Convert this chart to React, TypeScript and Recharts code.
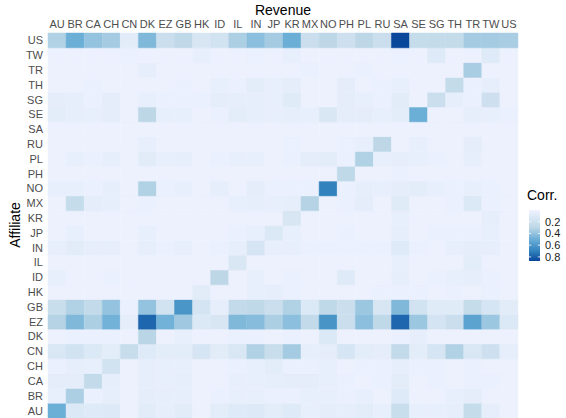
import React from "react";
import { BarChart, Bar, XAxis, YAxis, Cell } from "recharts";

// columns (Revenue) and rows (Affiliate, bottom to top)
const revenue = ["AU", "BR", "CA", "CH", "CN", "DK", "EZ", "GB", "HK", "ID", "IL", "IN", "JP", "KR", "MX", "NO", "PH", "PL", "RU", "SA", "SE", "SG", "TH", "TR", "TW", "US"];
const affiliates = ["AU", "BR", "CA", "CH", "CN", "DK", "EZ", "GB", "HK", "ID", "IL", "IN", "JP", "KR", "MX", "NO", "PH", "PL", "RU", "SA", "SE", "SG", "TH", "TR", "TW", "US"];

// correlation per affiliate row, in revenue column order
const rowAU = [0.5, 0.12, 0.1, 0.11, 0.02, 0.08, 0.05, 0.08, 0.02, 0.07, 0.1, 0.11, 0.07, 0.1, 0.04, 0.06, 0.05, 0.07, 0.04, 0.23, 0.04, 0.04, 0.05, 0.25, 0.05, 0.02];
const rowBR = [0.04, 0.34, 0.03, 0.05, 0.02, 0.06, 0.05, 0.05, 0.02, 0.03, 0.04, 0.04, 0.03, 0.03, 0.04, 0.04, 0.03, 0.04, 0.02, 0.1, 0.02, 0.02, 0.04, 0.06, 0.02, 0.02];
const rowCA = [0.06, 0.06, 0.27, 0.05, 0.02, 0.05, 0.04, 0.05, 0.02, 0.02, 0.04, 0.04, 0.05, 0.06, 0.06, 0.04, 0.03, 0.02, 0.03, 0.07, 0.02, 0.03, 0.02, 0.03, 0.03, 0.02];
const rowCH = [0.03, 0.05, 0.04, 0.18, 0.02, 0.05, 0.04, 0.04, 0.02, 0.02, 0.03, 0.04, 0.07, 0.03, 0.03, 0.04, 0.02, 0.03, 0.03, 0.05, 0.03, 0.03, 0.02, 0.03, 0.02, 0.02];
const rowCN = [0.13, 0.18, 0.12, 0.07, 0.24, 0.1, 0.07, 0.07, 0.15, 0.08, 0.13, 0.33, 0.23, 0.36, 0.05, 0.06, 0.15, 0.07, 0.06, 0.27, 0.07, 0.15, 0.33, 0.13, 0.2, 0.05];
const rowDK = [0.02, 0.03, 0.03, 0.03, 0.02, 0.31, 0.02, 0.04, 0.02, 0.02, 0.03, 0.03, 0.02, 0.03, 0.02, 0.12, 0.02, 0.02, 0.02, 0.03, 0.05, 0.02, 0.02, 0.02, 0.02, 0.02];
const rowEZ = [0.32, 0.45, 0.34, 0.48, 0.06, 0.78, 0.48, 0.37, 0.12, 0.14, 0.45, 0.43, 0.34, 0.42, 0.27, 0.62, 0.22, 0.42, 0.28, 0.78, 0.38, 0.16, 0.22, 0.55, 0.38, 0.12];
const rowGB = [0.23, 0.33, 0.27, 0.4, 0.03, 0.4, 0.18, 0.61, 0.16, 0.05, 0.27, 0.28, 0.22, 0.33, 0.12, 0.28, 0.22, 0.38, 0.14, 0.45, 0.18, 0.09, 0.09, 0.25, 0.15, 0.08];
const rowHK = [0.02, 0.02, 0.02, 0.02, 0.02, 0.02, 0.02, 0.02, 0.08, 0.02, 0.02, 0.04, 0.05, 0.03, 0.02, 0.02, 0.02, 0.02, 0.03, 0.03, 0.03, 0.02, 0.03, 0.02, 0.03, 0.02];
const rowID = [0.04, 0.02, 0.02, 0.03, 0.02, 0.02, 0.02, 0.02, 0.02, 0.3, 0.02, 0.04, 0.02, 0.03, 0.02, 0.02, 0.1, 0.02, 0.02, 0.05, 0.02, 0.03, 0.04, 0.05, 0.03, 0.02];
const rowIL = [0.02, 0.02, 0.02, 0.02, 0.02, 0.02, 0.02, 0.02, 0.02, 0.02, 0.13, 0.02, 0.02, 0.02, 0.02, 0.02, 0.02, 0.02, 0.02, 0.04, 0.02, 0.02, 0.02, 0.07, 0.02, 0.02];
const rowIN = [0.04, 0.08, 0.05, 0.05, 0.02, 0.05, 0.03, 0.04, 0.02, 0.03, 0.05, 0.15, 0.04, 0.04, 0.03, 0.03, 0.03, 0.03, 0.03, 0.1, 0.03, 0.02, 0.04, 0.06, 0.05, 0.02];
const rowJP = [0.02, 0.04, 0.02, 0.02, 0.02, 0.04, 0.02, 0.02, 0.02, 0.02, 0.03, 0.04, 0.12, 0.04, 0.02, 0.02, 0.03, 0.02, 0.02, 0.05, 0.02, 0.03, 0.03, 0.03, 0.04, 0.02];
const rowKR = [0.02, 0.02, 0.02, 0.02, 0.02, 0.02, 0.02, 0.02, 0.02, 0.02, 0.02, 0.02, 0.02, 0.14, 0.02, 0.02, 0.02, 0.02, 0.02, 0.04, 0.02, 0.02, 0.02, 0.02, 0.05, 0.02];
const rowMX = [0.02, 0.25, 0.06, 0.05, 0.02, 0.03, 0.02, 0.02, 0.02, 0.02, 0.04, 0.05, 0.04, 0.05, 0.32, 0.02, 0.03, 0.06, 0.02, 0.09, 0.02, 0.02, 0.03, 0.12, 0.03, 0.02];
const rowNO = [0.04, 0.04, 0.03, 0.05, 0.02, 0.33, 0.03, 0.04, 0.02, 0.05, 0.02, 0.06, 0.03, 0.03, 0.03, 0.7, 0.03, 0.05, 0.04, 0.06, 0.07, 0.04, 0.03, 0.04, 0.03, 0.02];
const rowPH = [0.02, 0.02, 0.02, 0.02, 0.02, 0.02, 0.02, 0.02, 0.02, 0.02, 0.02, 0.02, 0.02, 0.02, 0.02, 0.02, 0.28, 0.02, 0.02, 0.03, 0.02, 0.02, 0.02, 0.02, 0.02, 0.02];
const rowPL = [0.02, 0.04, 0.03, 0.05, 0.02, 0.08, 0.04, 0.05, 0.02, 0.03, 0.04, 0.04, 0.02, 0.03, 0.06, 0.07, 0.03, 0.33, 0.04, 0.05, 0.04, 0.03, 0.02, 0.05, 0.02, 0.02];
const rowRU = [0.02, 0.02, 0.02, 0.02, 0.02, 0.04, 0.02, 0.02, 0.02, 0.02, 0.02, 0.02, 0.02, 0.03, 0.02, 0.02, 0.03, 0.04, 0.3, 0.02, 0.04, 0.02, 0.02, 0.06, 0.02, 0.02];
const rowSA = [0.02, 0.02, 0.02, 0.02, 0.02, 0.02, 0.02, 0.02, 0.02, 0.02, 0.02, 0.02, 0.02, 0.02, 0.02, 0.02, 0.02, 0.02, 0.02, 0.02, 0.02, 0.02, 0.02, 0.02, 0.02, 0.02];
const rowSE = [0.07, 0.05, 0.04, 0.06, 0.02, 0.3, 0.04, 0.04, 0.02, 0.03, 0.07, 0.05, 0.04, 0.05, 0.04, 0.13, 0.06, 0.06, 0.04, 0.07, 0.5, 0.02, 0.02, 0.05, 0.04, 0.03];
const rowSG = [0.06, 0.05, 0.03, 0.06, 0.02, 0.04, 0.03, 0.03, 0.03, 0.06, 0.05, 0.05, 0.04, 0.09, 0.02, 0.02, 0.06, 0.04, 0.03, 0.08, 0.02, 0.22, 0.05, 0.03, 0.2, 0.02];
const rowTH = [0.02, 0.02, 0.03, 0.02, 0.02, 0.02, 0.02, 0.03, 0.02, 0.04, 0.03, 0.07, 0.04, 0.06, 0.02, 0.02, 0.06, 0.02, 0.03, 0.04, 0.02, 0.02, 0.26, 0.03, 0.05, 0.02];
const rowTR = [0.02, 0.02, 0.02, 0.02, 0.02, 0.05, 0.02, 0.02, 0.02, 0.02, 0.02, 0.02, 0.02, 0.02, 0.03, 0.02, 0.02, 0.03, 0.02, 0.02, 0.02, 0.02, 0.02, 0.35, 0.02, 0.02];
const rowTW = [0.02, 0.02, 0.02, 0.02, 0.03, 0.02, 0.02, 0.02, 0.04, 0.02, 0.02, 0.03, 0.02, 0.04, 0.02, 0.02, 0.02, 0.02, 0.02, 0.03, 0.02, 0.1, 0.02, 0.02, 0.1, 0.02];
const rowUS = [0.33, 0.5, 0.4, 0.36, 0.08, 0.45, 0.22, 0.28, 0.14, 0.18, 0.34, 0.42, 0.36, 0.5, 0.22, 0.3, 0.2, 0.3, 0.22, 0.87, 0.25, 0.26, 0.26, 0.36, 0.36, 0.35];

const corrRows = [rowAU, rowBR, rowCA, rowCH, rowCN, rowDK, rowEZ, rowGB, rowHK, rowID, rowIL, rowIN, rowJP, rowKR, rowMX, rowNO, rowPH, rowPL, rowRU, rowSA, rowSE, rowSG, rowTH, rowTR, rowTW, rowUS];

const legendTicks = [0.2, 0.4, 0.6, 0.8];

// colour scale (light -> dark blue)
const STOPS = [
  { v: 0, c: [0xef, 0xf3, 0xff] },
  { v: 0.3, c: [0xbd, 0xd7, 0xe7] },
  { v: 0.5, c: [0x6b, 0xae, 0xd6] },
  { v: 0.7, c: [0x31, 0x82, 0xbd] },
  { v: 0.87, c: [0x08, 0x47, 0x9a] },
];
const MIN = 0;
const MAX = 0.87;

function corrColor(v: number) {
  const x = Math.max(MIN, Math.min(MAX, v));
  for (let i = 0; i < STOPS.length - 1; i++) {
    const a = STOPS[i];
    const b = STOPS[i + 1];
    if (x <= b.v) {
      const t = (x - a.v) / (b.v - a.v);
      const c = a.c.map((ch, k) => Math.round(ch + (b.c[k] - ch) * t));
      return `rgb(${c[0]},${c[1]},${c[2]})`;
    }
  }
  const c = STOPS[STOPS.length - 1].c;
  return `rgb(${c[0]},${c[1]},${c[2]})`;
}

// one stacked segment per affiliate, each one unit tall
const data = revenue.map((col) => {
  const d: any = { col };
  affiliates.forEach((_, j) => {
    d[`r${j}`] = 1;
  });
  return d;
});

const FONT = "'Liberation Sans', Arial, sans-serif";

// legend colour bar
const BAR = { x: 529, y: 210, w: 11, h: 51 };
const legendY = (v: number) => BAR.y + ((v - MIN) / (MAX - MIN)) * BAR.h;

function Overlay() {
  return (
    <svg width={566} height={418} style={{ position: "absolute", left: 0, top: 0, pointerEvents: "none" }} fontFamily={FONT}>
      <defs>
        <linearGradient id="corrGrad" x1="0" y1="0" x2="0" y2="1">
          {STOPS.map((s) => (
            <stop key={s.v} offset={(s.v - MIN) / (MAX - MIN)} stopColor={corrColor(s.v)} />
          ))}
        </linearGradient>
      </defs>
      <text x={283} y={15} textAnchor="middle" fontSize={14} fill="#000">Revenue</text>
      <text x={20} y={225} textAnchor="middle" fontSize={14} fill="#000" transform="rotate(-90 20 225)">Affiliate</text>
      <text x={527} y={200} fontSize={14} fill="#000">Corr.</text>
      <rect x={BAR.x} y={BAR.y} width={BAR.w} height={BAR.h} fill="url(#corrGrad)" />
      {legendTicks.map((t) => (
        <g key={t}>
          <line x1={BAR.x} x2={BAR.x + 2.2} y1={legendY(t)} y2={legendY(t)} stroke="#fff" strokeWidth={0.8} />
          <line x1={BAR.x + BAR.w - 2.2} x2={BAR.x + BAR.w} y1={legendY(t)} y2={legendY(t)} stroke="#fff" strokeWidth={0.8} />
          <text x={545} y={legendY(t)} dy="0.36em" fontSize={11} fill="#1a1a1a">{t.toFixed(1)}</text>
        </g>
      ))}
    </svg>
  );
}

export default function App() {
  return (
    <div style={{ position: "relative", width: 566, height: 418, background: "#fff" }}>
      <style>{`body{margin:0}`}</style>
      <BarChart
        width={566}
        height={418}
        data={data}
        margin={{ top: 0, right: 48, bottom: 0, left: 0 }}
        barCategoryGap={0}
        barGap={0}
        style={{ fontFamily: FONT }}
      >
        <XAxis
          dataKey="col"
          orientation="top"
          height={33}
          interval={0}
          tickLine={false}
          axisLine={false}
          tickSize={0}
          tickMargin={5}
          tick={{ fill: "#4d4d4d", fontSize: 11 }}
        />
        <YAxis
          type="number"
          domain={[0, affiliates.length]}
          ticks={affiliates.map((_, j) => j + 0.5)}
          tickFormatter={(v: number) => affiliates[Math.floor(v)]}
          interval={0}
          width={48}
          tickLine={false}
          axisLine={false}
          tickSize={0}
          tickMargin={5}
          tick={{ fill: "#4d4d4d", fontSize: 11 }}
        />
        {affiliates.map((aff, j) => (
          <Bar key={aff} dataKey={`r${j}`} stackId="tiles" isAnimationActive={false}>
            {revenue.map((col, i) => {
              const fill = corrColor(corrRows[j][i]);
              return <Cell key={col} fill={fill} stroke={fill} strokeWidth={0.5} />;
            })}
          </Bar>
        ))}
      </BarChart>
      <Overlay />
    </div>
  );
}
